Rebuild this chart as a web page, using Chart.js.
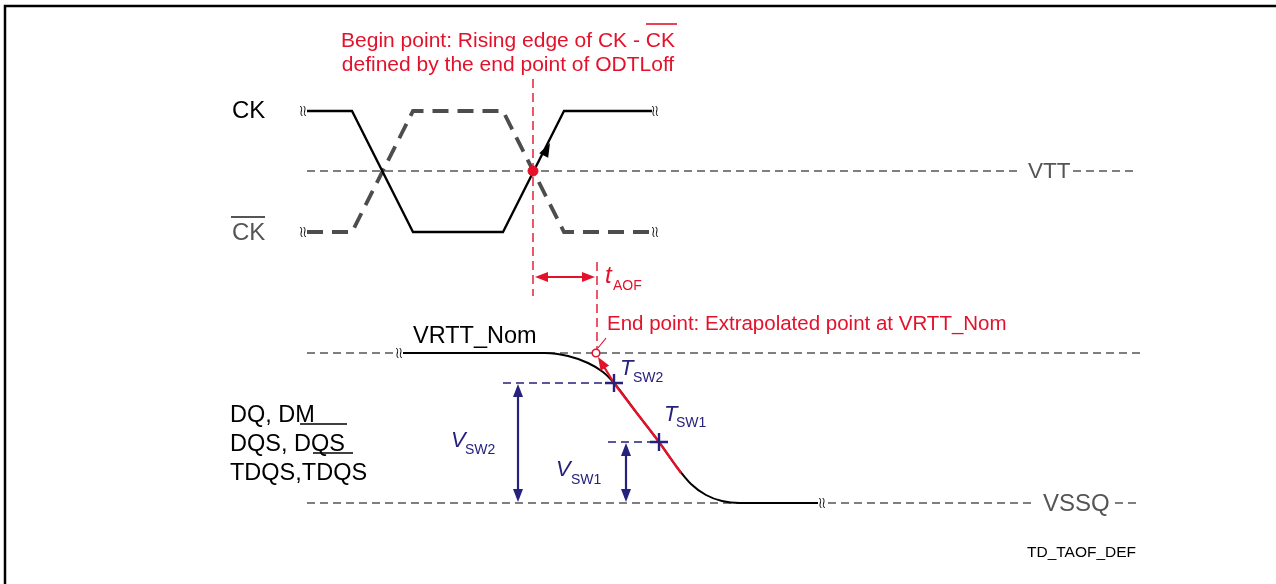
<!DOCTYPE html>
<html>
<head>
<meta charset="utf-8">
<script src="https://cdn.jsdelivr.net/npm/chart.js@4.4.1/dist/chart.umd.min.js"></script>
<style>
  html, body { margin: 0; padding: 0; background: #fff; }
  #wrap { width: 1276px; height: 584px; }
</style>
</head>
<body>
<div id="wrap"><canvas id="diag" width="1276" height="584"></canvas></div>
<script>
// signal levels (in picture units)
const vtt = 171;
const vrtt = 353;
const vssq = 503;
const ckHigh = 111;
const ckLow = 232;

// CK and CK# edges
const ckX  = [307, 352, 413, 503, 564, 652];
const ckY  = [ckHigh, ckHigh, ckLow, ckLow, ckHigh, ckHigh];
const ckbY = [ckLow, ckLow, ckHigh, ckHigh, ckLow, ckLow];

// DQ falling waveform
const dqX = [403, 545, 568, 588, 603, 614, 636, 659, 676, 691, 706, 722, 740, 818];
const dqY = [353, 353, 356, 363, 372, 383, 412, 442, 466, 484, 495, 501, 503, 503];

// red highlighted section of the DQ edge
const redX = [614, 636, 659, 676, 681];
const redY = [383, 412, 442, 466, 473];

// switching points
const tswX = [614, 659];
const tswY = [383, 442];

const RED = '#e4112b';
const NAVY = '#27217e';
const GRAY = '#555555';

function pts(xs, ys) { return xs.map((x, i) => ({ x: x, y: ys[i] })); }
function seg(x1, y1, x2, y2) { return [{ x: x1, y: y1 }, { x: x2, y: y2 }]; }

function line(data, color, width, dash, extra) {
  return Object.assign({
    data: data, showLine: true, borderColor: color, borderWidth: width,
    borderDash: dash || [], pointRadius: 0, fill: false, tension: 0
  }, extra || {});
}

// listed bottom layer first; Chart.js paints index 0 on top, so reversed below
const layers = [
  // reference levels
  line([{x: 307, y: vtt}, {x: 1022, y: vtt}, {x: 1048, y: null}, {x: 1073, y: vtt}, {x: 1138, y: vtt}], GRAY, 1.5, [8, 5]),
  line([{x: 307, y: vrtt}, {x: 395, y: vrtt}, {x: 399, y: null}, {x: 404, y: vrtt}, {x: 1140, y: vrtt}], GRAY, 1.5, [8, 5]),
  line([{x: 307, y: vssq}, {x: 815, y: vssq}, {x: 822, y: null}, {x: 828, y: vssq}, {x: 1035, y: vssq}, {x: 1078, y: null}, {x: 1115, y: vssq}, {x: 1138, y: vssq}], GRAY, 1.5, [8, 5]),
  // CK#
  line(pts(ckX, ckbY), '#4d4d4d', 3.8, [16, 9]),
  // CK
  line(pts(ckX, ckY), '#000', 2.3),
  // begin / end marker lines
  line(seg(533, 79, 533, 296), RED, 1.4, [9, 5]),
  line(seg(597, 262, 597, 350), RED, 1.4, [9, 5]),
  // DQ waveform
  line(pts(dqX, dqY), '#000', 2, [], { cubicInterpolationMode: 'monotone' }),
  line(pts(redX, redY), RED, 2.4, [], { cubicInterpolationMode: 'monotone' }),
  line(seg(614, 383, 601, 362), RED, 2.2),
  // VSW dashed references
  line(seg(503, 383, 614, 383), NAVY, 1.6, [8, 5]),
  line(seg(608, 442, 659, 442), NAVY, 1.6, [8, 5]),
  // Tsw crosses
  { data: pts(tswX, tswY), showLine: false, pointStyle: 'cross', pointRadius: 9,
    borderColor: NAVY, borderWidth: 2.4, backgroundColor: NAVY },
  // begin point dot
  { data: [{x: 533, y: vtt}], showLine: false, pointStyle: 'circle', pointRadius: 5,
    backgroundColor: RED, borderColor: RED, borderWidth: 1 },
  // end point open circle
  line(seg(598, 348, 606, 338), RED, 1.2),
  { data: [{x: 596, y: vrtt}], showLine: false, pointStyle: 'circle', pointRadius: 3.8,
    backgroundColor: '#fff', borderColor: RED, borderWidth: 1.6 }
];
const datasets = layers.slice().reverse();

function arrowHead(ctx, x, y, ang, len, half, color) {
  ctx.save();
  ctx.translate(x, y);
  ctx.rotate(ang);
  ctx.fillStyle = color;
  ctx.beginPath();
  ctx.moveTo(0, 0);
  ctx.lineTo(-len, -half);
  ctx.lineTo(-len, half);
  ctx.closePath();
  ctx.fill();
  ctx.restore();
}

function dblArrow(ctx, x1, y1, x2, y2, color) {
  ctx.save();
  ctx.strokeStyle = color;
  ctx.lineWidth = 2.2;
  const a = Math.atan2(y2 - y1, x2 - x1);
  const L = 13;
  ctx.beginPath();
  ctx.moveTo(x1 + Math.cos(a) * L * 0.8, y1 + Math.sin(a) * L * 0.8);
  ctx.lineTo(x2 - Math.cos(a) * L * 0.8, y2 - Math.sin(a) * L * 0.8);
  ctx.stroke();
  ctx.restore();
  arrowHead(ctx, x2, y2, a, L, 5, color);
  arrowHead(ctx, x1, y1, a + Math.PI, L, 5, color);
}

function breakMark(ctx, x, y) {
  ctx.save();
  ctx.strokeStyle = '#000';
  ctx.lineWidth = 1;
  [-1.7, 1.7].forEach(function (dx) {
    ctx.beginPath();
    ctx.moveTo(x + dx - 1, y - 5);
    ctx.bezierCurveTo(x + dx + 2.5, y - 2, x + dx - 2.5, y + 2, x + dx + 1, y + 5);
    ctx.stroke();
  });
  ctx.restore();
}

function txt(ctx, s, x, y, size, color, opts) {
  opts = opts || {};
  ctx.save();
  ctx.font = (opts.italic ? 'italic ' : '') + size + 'px "Liberation Sans", Arial, sans-serif';
  ctx.fillStyle = color;
  ctx.textAlign = opts.align || 'left';
  ctx.textBaseline = 'alphabetic';
  ctx.fillText(s, x, y);
  ctx.restore();
}

function stroke(ctx, color, w, segs) {
  ctx.save();
  ctx.strokeStyle = color;
  ctx.lineWidth = w;
  ctx.beginPath();
  segs.forEach(s => { ctx.moveTo(s[0], s[1]); ctx.lineTo(s[2], s[3]); });
  ctx.stroke();
  ctx.restore();
}

const decorations = {
  id: 'decorations',
  afterDatasetsDraw(chart) {
    const ctx = chart.ctx;
    const sx = chart.scales.x, sy = chart.scales.y;
    const X = v => sx.getPixelForValue(v);
    const Y = v => sy.getPixelForValue(v);

    // frame
    ctx.save();
    ctx.strokeStyle = '#000';
    ctx.lineWidth = 2.5;
    ctx.beginPath();
    ctx.moveTo(X(5), Y(590));
    ctx.lineTo(X(5), Y(6));
    ctx.lineTo(X(1280), Y(6));
    ctx.stroke();
    ctx.restore();

    // break marks
    [[303, ckHigh], [303, ckLow], [655, ckHigh], [655, ckLow], [399, vrtt], [822, vssq]]
      .forEach(p => breakMark(ctx, X(p[0]), Y(p[1])));

    // arrow on CK rising edge
    arrowHead(ctx, X(550), Y(143), Math.atan2(-121, 61), 14, 5, '#000');
    // arrow on extrapolation line
    arrowHead(ctx, X(598), Y(357), Math.atan2(-21, -13), 13, 5, RED);

    // tAOF and VSW arrows
    dblArrow(ctx, X(535), Y(277), X(595), Y(277), RED);
    dblArrow(ctx, X(518), Y(384), X(518), Y(502), NAVY);
    dblArrow(ctx, X(626), Y(443), X(626), Y(502), NAVY);

    // red annotations
    txt(ctx, 'Begin point: Rising edge of CK - CK', X(508), Y(47), 21, RED, { align: 'center' });
    txt(ctx, 'defined by the end point of ODTLoff', X(508), Y(71), 21, RED, { align: 'center' });
    stroke(ctx, RED, 1.6, [[X(646), Y(24), X(677), Y(24)]]);
    txt(ctx, 't', X(605), Y(283), 24, RED, { italic: true });
    txt(ctx, 'AOF', X(613), Y(290), 14, RED);
    txt(ctx, 'End point: Extrapolated point at VRTT_Nom', X(607), Y(330), 20.5, RED);

    // navy switching labels
    txt(ctx, 'T', X(620), Y(375), 22, NAVY, { italic: true });
    txt(ctx, 'SW2', X(633), Y(382), 14, NAVY);
    txt(ctx, 'T', X(664), Y(421), 22, NAVY, { italic: true });
    txt(ctx, 'SW1', X(676), Y(427), 14, NAVY);
    txt(ctx, 'V', X(451), Y(447), 22, NAVY, { italic: true });
    txt(ctx, 'SW2', X(465), Y(454), 14, NAVY);
    txt(ctx, 'V', X(556), Y(476), 22, NAVY, { italic: true });
    txt(ctx, 'SW1', X(571), Y(484), 14, NAVY);

    // signal names
    txt(ctx, 'CK', X(232), Y(118), 24, '#000');
    txt(ctx, 'CK', X(232), Y(240), 24, GRAY);
    stroke(ctx, GRAY, 2, [[X(231), Y(217), X(265), Y(217)]]);
    txt(ctx, 'VRTT_Nom', X(413), Y(343), 23.5, '#000');
    txt(ctx, 'DQ, DM', X(230), Y(422), 23.5, '#000');
    txt(ctx, 'DQS, DQS', X(230), Y(451), 23.5, '#000');
    txt(ctx, 'TDQS,TDQS', X(230), Y(480), 23.5, '#000');
    stroke(ctx, '#000', 1.3, [[X(300), Y(424), X(347), Y(424)], [X(313), Y(453), X(353), Y(453)]]);

    // level names
    txt(ctx, 'VTT', X(1028), Y(178), 22.5, GRAY);
    txt(ctx, 'VSSQ', X(1043), Y(511), 24, GRAY);
    txt(ctx, 'TD_TAOF_DEF', X(1027), Y(557), 15.5, '#000');
  }
};

new Chart(document.getElementById('diag'), {
  type: 'scatter',
  data: { datasets: datasets },
  options: {
    responsive: false,
    animation: false,
    layout: { padding: 0, autoPadding: false },
    plugins: { legend: { display: false }, tooltip: { enabled: false } },
    scales: {
      x: { type: 'linear', min: 0, max: 1276, display: false },
      y: { type: 'linear', min: 0, max: 584, reverse: true, display: false }
    }
  },
  plugins: [decorations]
});
</script>
</body>
</html>
